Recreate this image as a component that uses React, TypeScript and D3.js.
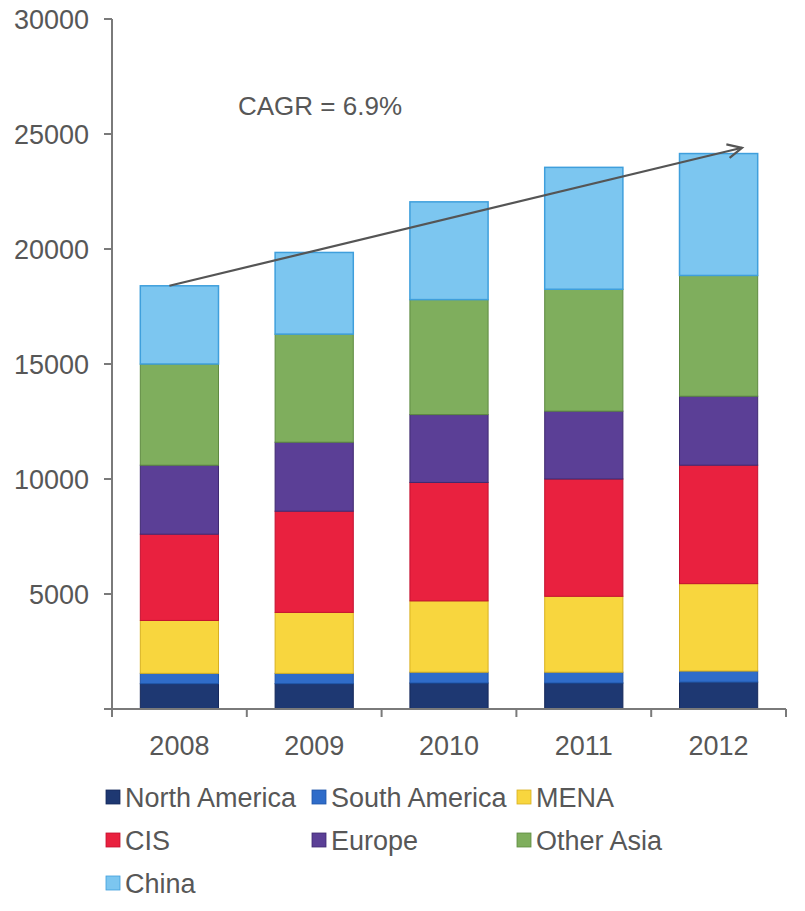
import React from "react";
import * as d3 from "d3";

const years = ["2008", "2009", "2010", "2011", "2012"];
const regions = ["North America", "South America", "MENA", "CIS", "Europe", "Other Asia", "China"];
const northAmerica = [1100, 1100, 1130, 1130, 1170];
const southAmerica = [450, 450, 470, 470, 480];
const mena = [2300, 2650, 3100, 3300, 3800];
const cis = [3750, 4400, 5150, 5100, 5150];
const europe = [3000, 3000, 2950, 2950, 3000];
const otherAsia = [4400, 4700, 5000, 5300, 5250];
const china = [3400, 3550, 4250, 5300, 5300];
const yTicks = [0, 5000, 10000, 15000, 20000, 25000, 30000];
const annotation = "CAGR = 6.9%";

const colors = ["#1e3872", "#2f6cc9", "#f8d63e", "#e9213f", "#5b3f96", "#7fae5d", "#7cc6f0"];
const edgeColors = ["#15285a", "#1f55a8", "#d8b020", "#c41030", "#3f2a70", "#5d8a40", "#3f9fdc"];

export default function App() {
  const W = 805, H = 911;
  const x0 = 112, x1 = 786, yTop = 19, yBase = 709;
  const series = [northAmerica, southAmerica, mena, cis, europe, otherAsia, china];
  const table = years.map((yr, i) => {
    const row: any = { year: yr };
    regions.forEach((r, j) => (row[r] = series[j][i]));
    return row;
  });
  const stacked = d3.stack<any>().keys(regions)(table);
  const x = d3.scaleBand().domain(years).range([x0, x1]).paddingInner(0.42).paddingOuter(0.21);
  const y = d3.scaleLinear().domain([0, 30000]).range([yBase, yTop]);
  const totals = table.map((_, i) => stacked[stacked.length - 1][i][1]);

  const font = "Arial, 'Liberation Sans', sans-serif";
  const ax = x(years[0])! + x.bandwidth() / 2 - 10;
  const ay = y(totals[0]);
  const bx = 742;
  const by = y(24400);
  const ang = Math.atan2(by - ay, bx - ax);
  const hl = 16, ha = 0.45;

  const legendCols = [106, 312, 517];
  const legendRows = [797, 840, 883];
  const txt = "#575757";

  return (
    <svg width={W} height={H} style={{ position: "absolute", left: 0, top: 0, background: "#fff" }}>
      {stacked.map((s, j) =>
        s.map((d, i) => (
          <rect
            key={`${j}-${i}`}
            x={x(years[i])}
            y={y(d[1])}
            width={x.bandwidth()}
            height={y(d[0]) - y(d[1])}
            fill={colors[j]}
            stroke={edgeColors[j]}
            strokeWidth={j === 6 ? 1.5 : 1}
          />
        ))
      )}
      {/* axes */}
      <line x1={x0} y1={yTop} x2={x0} y2={yBase} stroke="#7a7a7a" strokeWidth={2} />
      <line x1={x0 - 6} y1={yBase} x2={x1} y2={yBase} stroke="#7a7a7a" strokeWidth={2} />
      {yTicks.map((t) => (
        <g key={t}>
          <line x1={x0 - 8} x2={x0} y1={y(t)} y2={y(t)} stroke="#7a7a7a" strokeWidth={2} />
          {t > 0 && (
            <text x={89} y={y(t)} dy="0.36em" textAnchor="end" fontFamily={font} fontSize={27} fill={txt}>
              {t}
            </text>
          )}
        </g>
      ))}
      {years.map((yr, i) => (
        <line key={"t" + yr} x1={x0 + i * x.step()} x2={x0 + i * x.step()} y1={yBase} y2={yBase + 8} stroke="#7a7a7a" strokeWidth={2} />
      ))}
      <line x1={x1} x2={x1} y1={yBase} y2={yBase + 8} stroke="#7a7a7a" strokeWidth={2} />
      {years.map((yr) => (
        <text key={yr} x={x(yr)! + x.bandwidth() / 2} y={745} dy="0.36em" textAnchor="middle" fontFamily={font} fontSize={27} fill={txt}>
          {yr}
        </text>
      ))}
      {/* CAGR arrow */}
      <line x1={ax} y1={ay} x2={bx} y2={by} stroke="#555" strokeWidth={2.2} />
      <polyline
        points={`${bx - hl * Math.cos(ang - ha)},${by - hl * Math.sin(ang - ha)} ${bx},${by} ${bx - hl * Math.cos(ang + ha)},${by - hl * Math.sin(ang + ha)}`}
        fill="none"
        stroke="#555"
        strokeWidth={2.2}
      />
      <text x={238} y={106} dy="0.36em" fontFamily={font} fontSize={26} fill={txt}>
        {annotation}
      </text>
      {/* legend */}
      {regions.map((r, j) => {
        const cx = legendCols[j % 3];
        const cy = legendRows[Math.floor(j / 3)];
        return (
          <g key={r}>
            <rect x={cx} y={cy - 7} width={14} height={14} fill={colors[j]} stroke={edgeColors[j]} strokeWidth={0.8} />
            <text x={cx + 19} y={cy} dy="0.36em" fontFamily={font} fontSize={27} fill={txt}>
              {r}
            </text>
          </g>
        );
      })}
    </svg>
  );
}
